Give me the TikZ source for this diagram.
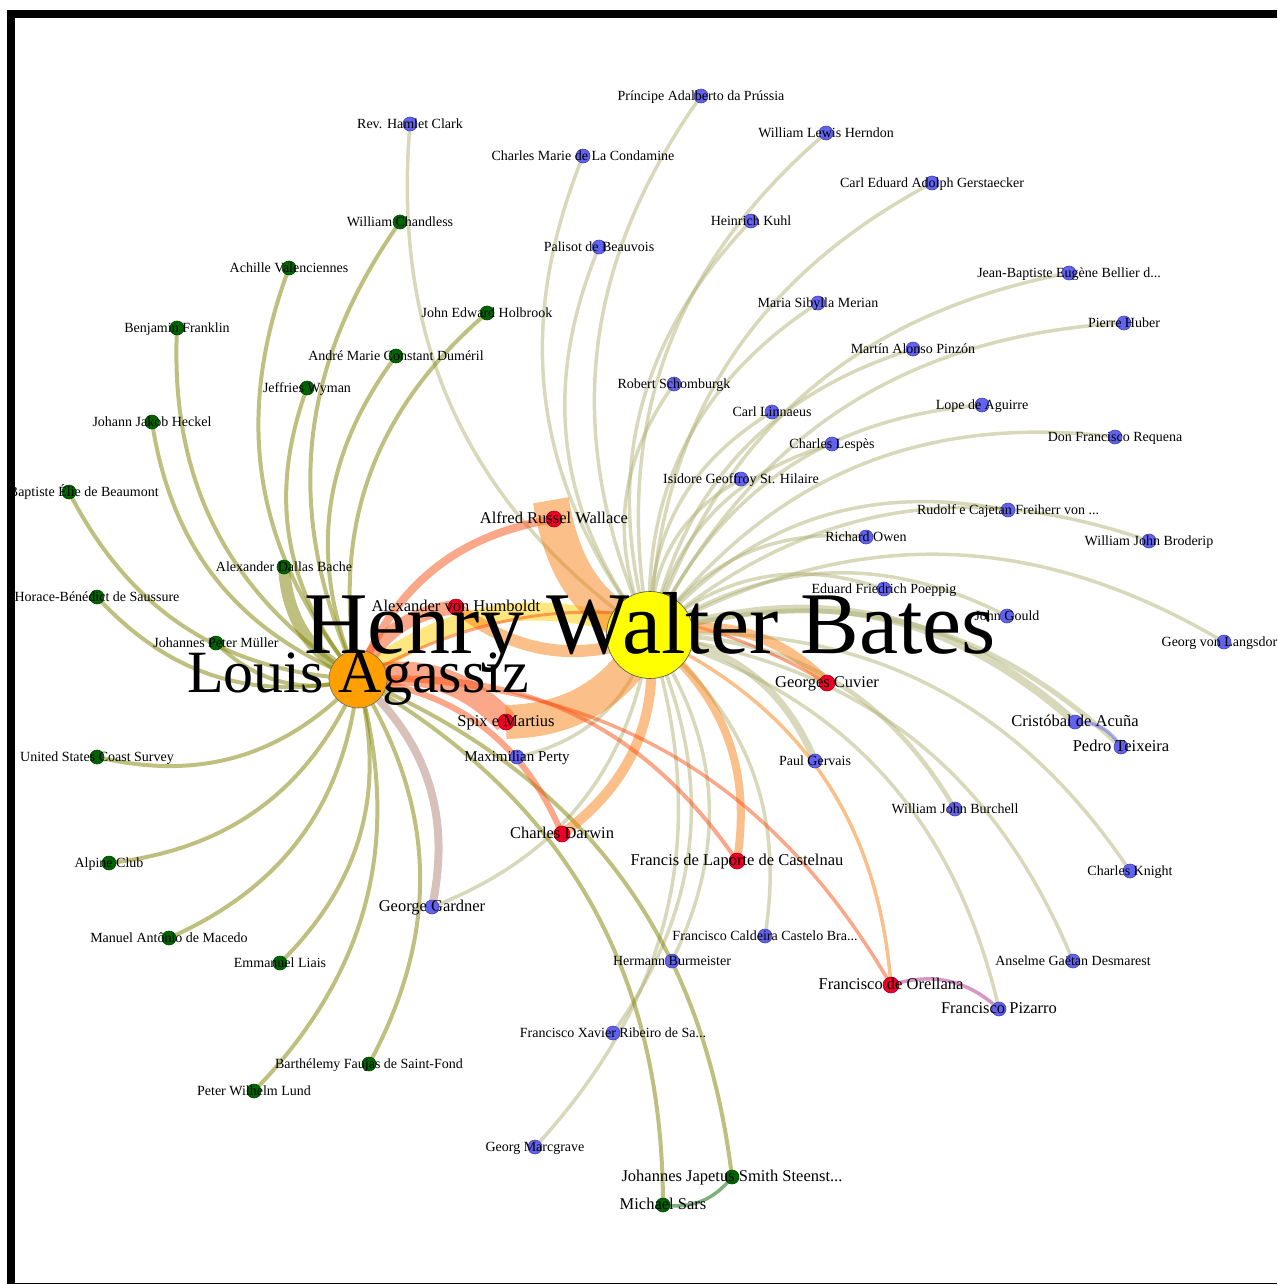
\documentclass[tikz,border=0pt]{standalone}
\usepackage{fontspec}
\setmainfont{Liberation Serif}
\pgfdeclarelayer{edges}
\pgfdeclarelayer{labels}
\pgfsetlayers{edges,main,labels}
% node fills
\definecolor{bluenode}{RGB}{98,98,240}
\definecolor{greennode}{RGB}{0,100,0}
\definecolor{rednode}{RGB}{238,0,38}
\definecolor{orangenode}{RGB}{255,160,0}
\definecolor{yellownode}{RGB}{255,255,0}
% edge colours: mix of the two end colours, drawn half transparent
\definecolor{eYB}{RGB}{177,177,120}
\definecolor{eOG}{RGB}{127,130,0}
\definecolor{eYR}{RGB}{247,127,20}
\definecolor{eOR}{RGB}{247,80,20}
\definecolor{eOY}{RGB}{255,207,0}
\definecolor{eOB}{RGB}{177,130,120}
\definecolor{eBB}{RGB}{98,98,240}
\definecolor{eRB}{RGB}{168,49,139}
\definecolor{eGG}{RGB}{0,100,0}
\tikzset{
  dot/.style={circle, inner sep=0pt, minimum size=14pt, line width=0.6pt},
  bdot/.style={dot, fill=bluenode, draw=bluenode!70!black},
  gdot/.style={dot, fill=greennode, draw=greennode!70!black},
  rdot/.style={dot, fill=rednode, draw=rednode!70!black, minimum size=16pt},
  lab/.style={anchor=base, yshift=-4.5pt, inner sep=0pt, font=\fontsize{14}{14}\selectfont},
  labm/.style={lab, font=\fontsize{16.5}{16.5}\selectfont},
  link/.style={draw opacity=0.5, line width=3.5pt},
  lYB/.style={link, draw=eYB},
  lOG/.style={link, draw=eOG, line width=4pt},
  lYR/.style={link, draw=eYR},
  lOR/.style={link, draw=eOR},
}
\begin{document}
\begin{tikzpicture}[x=1pt,y=-1pt]
\useasboundingbox (0,0) rectangle (1277,1285);
% frame
\fill[black] (7,10) rectangle (1277,18);
\fill[black] (7,10) rectangle (15,1284);
\fill[black] (7,1283) rectangle (1277,1284);

% hubs
\node[circle, inner sep=0pt, minimum size=87pt, fill=yellownode, draw=black!70, line width=0.6pt] (bates) at (650,635) {};
\node[circle, inner sep=0pt, minimum size=58pt, fill=orangenode, draw=black!60, line width=0.6pt] (agassiz) at (358,679) {};

% red nodes
\node[rdot] (wallace) at (554,519) {};
\node[rdot] (humboldt) at (456,607) {};
\node[rdot] (cuvier) at (827,683) {};
\node[rdot] (spix) at (506,722) {};
\node[rdot] (darwin) at (562,834) {};
\node[rdot] (castelnau) at (737,861) {};
\node[rdot] (orellana) at (891,985) {};

% blue nodes
\node[bdot] (adalberto) at (701,96) {};
\node[bdot] (hamlet) at (410,124) {};
\node[bdot] (herndon) at (826,133) {};
\node[bdot] (condamine) at (583,156) {};
\node[bdot] (gerstaecker) at (932,183) {};
\node[bdot] (kuhl) at (751,221) {};
\node[bdot] (palisot) at (599,247) {};
\node[bdot] (bellier) at (1069,273) {};
\node[bdot] (merian) at (818,303) {};
\node[bdot] (huber) at (1124,323) {};
\node[bdot] (pinzon) at (913,349) {};
\node[bdot] (schomburgk) at (674,384) {};
\node[bdot] (linnaeus) at (772,412) {};
\node[bdot] (aguirre) at (982,405) {};
\node[bdot] (requena) at (1115,437) {};
\node[bdot] (lespes) at (832,444) {};
\node[bdot] (isidore) at (741,479) {};
\node[bdot] (rudolf) at (1008,510) {};
\node[bdot] (owen) at (866,537) {};
\node[bdot] (broderip) at (1149,541) {};
\node[bdot] (poeppig) at (884,589) {};
\node[bdot] (gould) at (1007,616) {};
\node[bdot] (langsdorff) at (1224,642) {};
\node[bdot] (acuna) at (1075,722) {};
\node[bdot] (teixeira) at (1121,747) {};
\node[bdot] (perty) at (517,757) {};
\node[bdot] (gervais) at (815,761) {};
\node[bdot] (burchell) at (955,809) {};
\node[bdot] (knight) at (1130,871) {};
\node[bdot] (gardner) at (432,907) {};
\node[bdot] (caldeira) at (765,936) {};
\node[bdot] (burmeister) at (672,961) {};
\node[bdot] (desmarest) at (1073,961) {};
\node[bdot] (pizarro) at (999,1009) {};
\node[bdot] (ribeiro) at (613,1033) {};
\node[bdot] (marcgrave) at (535,1147) {};

% green nodes
\node[gdot] (chandless) at (400,222) {};
\node[gdot] (valenciennes) at (289,268) {};
\node[gdot] (holbrook) at (487,313) {};
\node[gdot] (franklin) at (177,328) {};
\node[gdot] (dumeril) at (396,356) {};
\node[gdot] (wyman) at (307,388) {};
\node[gdot] (heckel) at (152,422) {};
\node[gdot] (beaumont) at (69,492) {};
\node[gdot] (bache) at (284,567) {};
\node[gdot] (saussure) at (97,597) {};
\node[gdot] (muller) at (216,643) {};
\node[gdot] (coast) at (97,757) {};
\node[gdot] (alpine) at (109,863) {};
\node[gdot] (macedo) at (169,938) {};
\node[gdot] (liais) at (280,963) {};
\node[gdot] (faujas) at (369,1064) {};
\node[gdot] (lund) at (254,1091) {};
\node[gdot] (steenstrup) at (732,1177) {};
\node[gdot] (sars) at (663,1205) {};

% connectors
\begin{pgfonlayer}{edges}
\begin{scope}
\clip (15,18) rectangle (1277,1283);
% Bates to the blue nodes
\foreach \t in {hamlet,adalberto,condamine,herndon,gerstaecker,kuhl,palisot,bellier,merian,huber,pinzon,schomburgk,linnaeus,aguirre,requena,lespes,isidore,rudolf,owen,broderip,poeppig,gould,langsdorff,knight,desmarest,pizarro,burmeister,caldeira,ribeiro,marcgrave,gardner,perty}
  \draw[lYB] (bates.center) to[bend left=30] (\t.center);
\draw[lYB, line width=8pt] (bates.center) to[bend left=30] (acuna.center);
\draw[lYB, line width=5pt] (bates.center) to[bend left=30] (teixeira.center);
\draw[lYB, line width=7pt] (bates.center) to[bend left=30] (gervais.center);
\draw[lYB, line width=4.5pt] (bates.center) to[bend left=30] (burchell.center);
% Agassiz to the green nodes
\foreach \t in {chandless,valenciennes,holbrook,franklin,dumeril,wyman,heckel,beaumont,saussure,muller,coast,alpine,macedo,liais,faujas,lund,steenstrup,sars}
  \draw[lOG] (agassiz.center) to[bend left=30] (\t.center);
\draw[lOG, line width=12pt] (agassiz.center) to[bend left=30] (bache.center);
\draw[link, draw=eOB, line width=8pt] (agassiz.center) to[bend left=30] (gardner.center);
% the two hubs
\draw[link, draw=eOY, line width=18pt] (agassiz.center) to[bend left=30] (bates.center);
% hubs to the red nodes
\draw[lOR, line width=14pt] (agassiz.center) to[bend left=30] (humboldt.center);
\draw[lYR, line width=12pt] (bates.center) to[bend left=30] (humboldt.center);
\draw[lOR, line width=8pt] (agassiz.center) to[bend left=30] (wallace.center);
\draw[lYR, line width=36pt, shorten >=-19pt] (bates.center) to[bend left=30] (wallace.center);
\draw[lOR, line width=24pt] (agassiz.center) to[bend left=30] (spix.center);
\draw[lYR, line width=34pt] (bates.center) to[bend left=30] (spix.center);
\draw[lOR, line width=6pt] (agassiz.center) to[bend left=30] (darwin.center);
\draw[lYR, line width=10pt] (bates.center) to[bend left=30] (darwin.center);
\draw[lOR, line width=4pt] (agassiz.center) to[bend left=30] (castelnau.center);
\draw[lYR, line width=8pt] (bates.center) to[bend left=30] (castelnau.center);
\draw[lOR, line width=3.5pt] (agassiz.center) to[bend left=30] (orellana.center);
\draw[lYR, line width=3.5pt] (bates.center) to[bend left=30] (orellana.center);
\draw[lOR, line width=3pt] (agassiz.center) to[bend left=30] (cuvier.center);
\draw[lYR, line width=10pt] (bates.center) to[bend left=30] (cuvier.center);
% links between outer nodes
\draw[link, draw=eBB] (acuna.center) to[bend left=30] (teixeira.center);
\draw[link, draw=eRB] (orellana.center) to[bend left=30] (pizarro.center);
\draw[link, draw=eGG] (steenstrup.center) to[bend left=30] (sars.center);
\end{scope}
\end{pgfonlayer}

% labels
\begin{pgfonlayer}{labels}
\begin{scope}
\clip (15,18) rectangle (1277,1283);
\node[lab, yshift=-13.5pt, font=\fontsize{88}{88}\selectfont] (bates-l) at (bates) {Henry Walter Bates};
\node[lab, yshift=-8.5pt, font=\fontsize{60}{60}\selectfont] (agassiz-l) at (agassiz) {Louis Agassiz};
\node[labm] (wallace-l) at (wallace) {Alfred Russel Wallace};
\node[labm] (humboldt-l) at (humboldt) {Alexander von Humboldt};
\node[labm] (cuvier-l) at (cuvier) {Georges Cuvier};
\node[labm] (spix-l) at (spix) {Spix e Martius};
\node[labm] (darwin-l) at (darwin) {Charles Darwin};
\node[labm] (castelnau-l) at (castelnau) {Francis de Laporte de Castelnau};
\node[labm] (orellana-l) at (orellana) {Francisco de Orellana};
\node[lab] (adalberto-l) at (adalberto) {Príncipe Adalberto da Prússia};
\node[lab] (hamlet-l) at (hamlet) {Rev. Hamlet Clark};
\node[lab] (herndon-l) at (herndon) {William Lewis Herndon};
\node[lab] (condamine-l) at (condamine) {Charles Marie de La Condamine};
\node[lab] (gerstaecker-l) at (gerstaecker) {Carl Eduard Adolph Gerstaecker};
\node[lab] (kuhl-l) at (kuhl) {Heinrich Kuhl};
\node[lab] (palisot-l) at (palisot) {Palisot de Beauvois};
\node[lab] (bellier-l) at (bellier) {Jean-Baptiste Eugène Bellier d...};
\node[lab] (merian-l) at (merian) {Maria Sibylla Merian};
\node[lab] (huber-l) at (huber) {Pierre Huber};
\node[lab] (pinzon-l) at (pinzon) {Martín Alonso Pinzón};
\node[lab] (schomburgk-l) at (schomburgk) {Robert Schomburgk};
\node[lab] (linnaeus-l) at (linnaeus) {Carl Linnaeus};
\node[lab] (aguirre-l) at (aguirre) {Lope de Aguirre};
\node[lab] (requena-l) at (requena) {Don Francisco Requena};
\node[lab] (lespes-l) at (lespes) {Charles Lespès};
\node[lab] (isidore-l) at (isidore) {Isidore Geoffroy St. Hilaire};
\node[lab] (rudolf-l) at (rudolf) {Rudolf e Cajetan Freiherr von ...};
\node[lab] (owen-l) at (owen) {Richard Owen};
\node[lab] (broderip-l) at (broderip) {William John Broderip};
\node[lab] (poeppig-l) at (poeppig) {Eduard Friedrich Poeppig};
\node[lab] (gould-l) at (gould) {John Gould};
\node[lab] (langsdorff-l) at (langsdorff) {Georg von Langsdorff};
\node[labm] (acuna-l) at (acuna) {Cristóbal de Acuña};
\node[labm] (teixeira-l) at (teixeira) {Pedro Teixeira};
\node[lab, font=\fontsize{15}{15}\selectfont] (perty-l) at (perty) {Maximilian Perty};
\node[lab] (gervais-l) at (gervais) {Paul Gervais};
\node[lab] (burchell-l) at (burchell) {William John Burchell};
\node[lab] (knight-l) at (knight) {Charles Knight};
\node[labm] (gardner-l) at (gardner) {George Gardner};
\node[lab] (caldeira-l) at (caldeira) {Francisco Caldeira Castelo Bra...};
\node[lab] (burmeister-l) at (burmeister) {Hermann Burmeister};
\node[lab] (desmarest-l) at (desmarest) {Anselme Gaëtan Desmarest};
\node[labm] (pizarro-l) at (pizarro) {Francisco Pizarro};
\node[lab] (ribeiro-l) at (ribeiro) {Francisco Xavier Ribeiro de Sa...};
\node[lab] (marcgrave-l) at (marcgrave) {Georg Marcgrave};
\node[lab] (chandless-l) at (chandless) {William Chandless};
\node[lab] (valenciennes-l) at (valenciennes) {Achille Valenciennes};
\node[lab] (holbrook-l) at (holbrook) {John Edward Holbrook};
\node[lab] (franklin-l) at (franklin) {Benjamin Franklin};
\node[lab] (dumeril-l) at (dumeril) {André Marie Constant Duméril};
\node[lab] (wyman-l) at (wyman) {Jeffries Wyman};
\node[lab] (heckel-l) at (heckel) {Johann Jakob Heckel};
\node[lab] (beaumont-l) at (beaumont) {Jean-Baptiste Élie de Beaumont};
\node[lab] (bache-l) at (bache) {Alexander Dallas Bache};
\node[lab] (saussure-l) at (saussure) {Horace-Bénédict de Saussure};
\node[lab] (muller-l) at (muller) {Johannes Peter Müller};
\node[lab] (coast-l) at (coast) {United States Coast Survey};
\node[lab] (alpine-l) at (alpine) {Alpine Club};
\node[lab] (macedo-l) at (macedo) {Manuel Antônio de Macedo};
\node[lab] (liais-l) at (liais) {Emmanuel Liais};
\node[lab] (faujas-l) at (faujas) {Barthélemy Faujas de Saint-Fond};
\node[lab] (lund-l) at (lund) {Peter Wilhelm Lund};
\node[labm] (steenstrup-l) at (steenstrup) {Johannes Japetus Smith Steenst...};
\node[labm] (sars-l) at (sars) {Michael Sars};
\end{scope}
\end{pgfonlayer}
\end{tikzpicture}
\end{document}
